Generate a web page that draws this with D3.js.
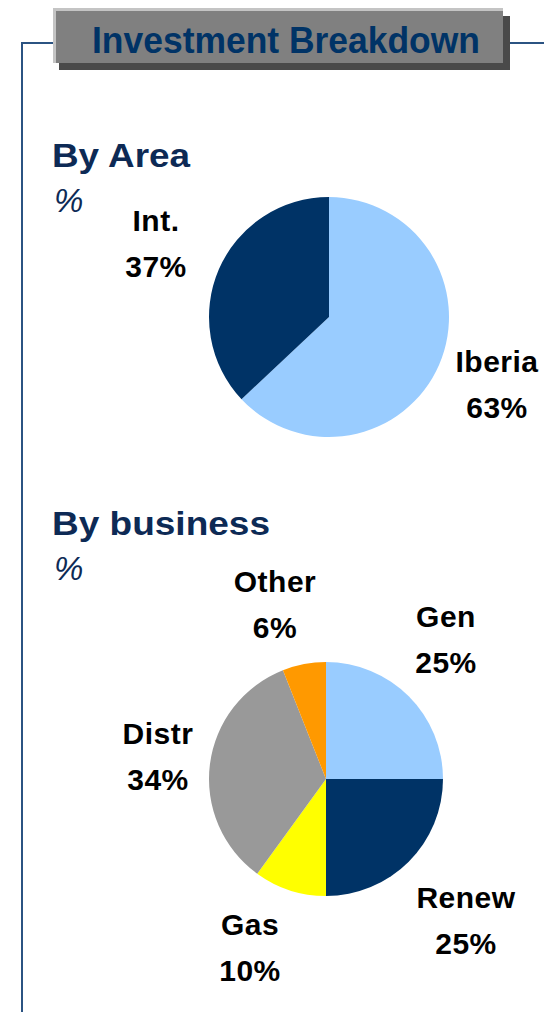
<!DOCTYPE html>
<html lang="en">
<head>
    <meta charset="UTF-8">
    <title>Investment Breakdown</title>
    <script src="https://d3js.org/d3.v7.min.js"></script>
    <style>
        body { margin: 0; background: #fff; }
        svg { display: block; font-family: "Liberation Sans", Arial, sans-serif; }
    </style>
</head>
<body>
<div id="chart"></div>
<script>
    // data
    const areaNames = ["Iberia", "Int."];
    const areaValues = [63, 37];
    const areaColors = ["#99ccff", "#003366"];

    const businessNames = ["Gen", "Renew", "Gas", "Distr", "Other"];
    const businessValues = [25, 25, 10, 34, 6];
    const businessColors = ["#99ccff", "#003366", "#ffff00", "#999999", "#ff9900"];

    const width = 544, height = 1012;
    const navy = "#0d2a55";

    const svg = d3.select("#chart").append("svg")
        .attr("width", width)
        .attr("height", height);

    // frame line
    svg.append("path")
        .attr("d", "M22,1012 V43 H55 M509,43 H544")
        .attr("fill", "none")
        .attr("stroke", "#2b5382")
        .attr("stroke-width", 2);

    // title box with shadow
    svg.append("rect").attr("x", 59).attr("y", 16).attr("width", 451).attr("height", 54).attr("fill", "#4a4a4a");
    svg.append("rect").attr("x", 53).attr("y", 8).attr("width", 450).attr("height", 55).attr("fill", "#c4c4c4");
    svg.append("rect").attr("x", 56).attr("y", 11).attr("width", 447).attr("height", 52).attr("fill", "#808080");
    svg.append("text")
        .attr("x", 92).attr("y", 53)
        .attr("font-size", 37).attr("font-weight", "bold")
        .attr("fill", "#003366")
        .attr("textLength", 388).attr("lengthAdjust", "spacingAndGlyphs")
        .text("Investment Breakdown");

    function sectionTitle(y, label, len) {
        svg.append("text").attr("x", 52).attr("y", y)
            .attr("font-size", 34).attr("font-weight", "bold").attr("fill", navy)
            .attr("textLength", len).attr("lengthAdjust", "spacingAndGlyphs")
            .text(label);
        svg.append("text").attr("x", 54).attr("y", y + 45)
            .attr("font-size", 33).attr("font-style", "italic").attr("fill", navy)
            .text("%");
    }
    sectionTitle(167, "By Area", 138);
    sectionTitle(535, "By business", 218);

    function drawPie(cx, cy, r, names, values, colors, labelPos) {
        const pie = d3.pie().sort(null).value(d => d)(values);
        const arc = d3.arc().innerRadius(0).outerRadius(r);
        const g = svg.append("g").attr("transform", `translate(${cx},${cy})`);
        g.selectAll("path").data(pie).join("path")
            .attr("d", arc)
            .attr("fill", (d, i) => colors[i]);

        names.forEach((n, i) => {
            const [x, y] = labelPos[i];
            const t = svg.append("text")
                .attr("text-anchor", "middle")
                .attr("font-size", 30).attr("font-weight", "bold")
                .attr("letter-spacing", 0.5)
                .attr("fill", "#000");
            t.append("tspan").attr("x", x).attr("y", y).text(n);
            t.append("tspan").attr("x", x).attr("y", y + 46).text(values[i] + "%");
        });
    }

    drawPie(329, 317, 120, areaNames, areaValues, areaColors,
        [[497, 372], [156, 231]]);

    drawPie(326, 779, 117, businessNames, businessValues, businessColors,
        [[446, 627], [466, 908], [250, 935], [158, 744], [275, 592]]);
</script>
</body>
</html>
